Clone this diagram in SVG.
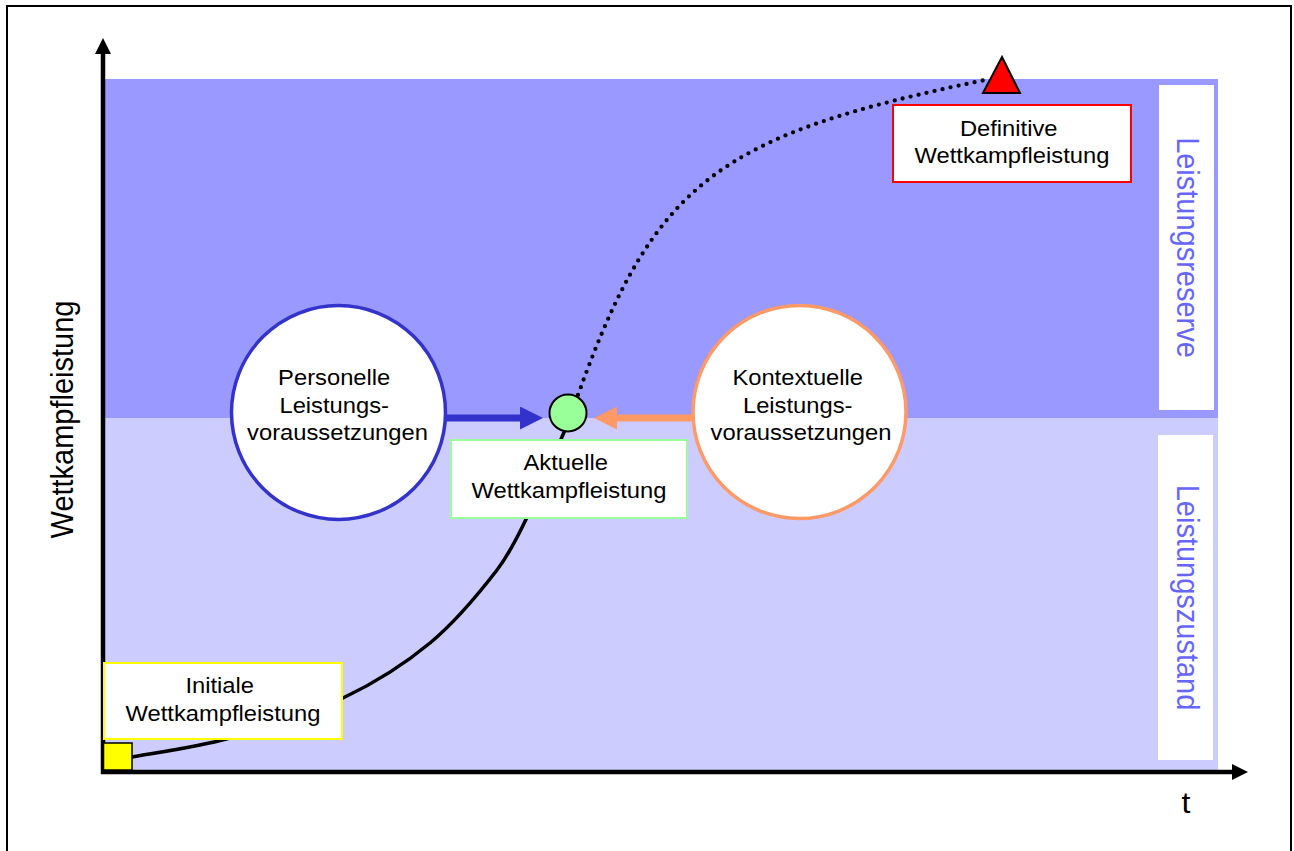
<svg xmlns="http://www.w3.org/2000/svg" width="1294" height="851" viewBox="0 0 1294 851">
  <style>
    .txt { font-family: "Liberation Sans", Arial, sans-serif; font-size: 22px; fill: #000; text-anchor: middle; }
    .big { font-family: "Liberation Sans", Arial, sans-serif; font-size: 29px; text-anchor: middle; }
    .side { fill: #6666FF; }
    .axis { stroke: #000; stroke-width: 4.5; fill: none; }
    .box { fill: #fff; stroke-width: 2; }
    .ring { fill: #fff; stroke-width: 3.5; }
    .curve { fill: none; stroke: #000; stroke-width: 3.5; }
    .dots { fill: none; stroke: #000; stroke-width: 4.3; stroke-linecap: round; stroke-dasharray: 0 8.2; }
  </style>
  <defs>
    <marker id="axisHead" viewBox="0 0 16 16" refX="1" refY="8" markerWidth="16" markerHeight="16" markerUnits="userSpaceOnUse" orient="auto">
      <path d="M0,0 L16,8 L0,16 Z" fill="#000"/>
    </marker>
    <marker id="blueHead" viewBox="0 0 23 23" refX="1" refY="11.5" markerWidth="23" markerHeight="23" markerUnits="userSpaceOnUse" orient="auto">
      <path d="M0,0 L23,11.5 L0,23 Z" fill="#3333CC"/>
    </marker>
    <marker id="orangeHead" viewBox="0 0 23 23" refX="1" refY="11.5" markerWidth="23" markerHeight="23" markerUnits="userSpaceOnUse" orient="auto">
      <path d="M0,0 L23,11.5 L0,23 Z" fill="#FF9966"/>
    </marker>
  </defs>

  <!-- page frame -->
  <rect x="0" y="0" width="1294" height="851" fill="#fff"/>
  <rect x="7" y="6" width="1284" height="880" fill="none" stroke="#000" stroke-width="2"/>

  <!-- performance bands -->
  <g id="bands">
    <rect x="105" y="79" width="1113" height="339" fill="#9999FF"/>
    <rect x="105" y="418" width="1113" height="352" fill="#CCCCFF"/>
  </g>

  <!-- band labels -->
  <g id="reserve">
    <rect x="1159" y="85" width="55" height="325" fill="#fff"/>
    <text class="big side" transform="translate(1177,247.5) scale(1.1,1) rotate(90)" x="0" y="0">Leistungsreserve</text>
  </g>
  <g id="zustand">
    <rect x="1158" y="435" width="55" height="325" fill="#fff"/>
    <text class="big side" transform="translate(1177,597.5) scale(1.1,1) rotate(90)" x="0" y="0">Leistungszustand</text>
  </g>

  <!-- axes -->
  <g id="axes">
    <line class="axis" x1="103" y1="774" x2="103" y2="53" marker-end="url(#axisHead)"/>
    <line class="axis" x1="101" y1="772" x2="1233" y2="772" marker-end="url(#axisHead)"/>
    <text class="big" transform="translate(73,419.5) scale(1.1,1) rotate(-90)" x="0" y="0">Wettkampfleistung</text>
    <text class="big" transform="translate(1186,0) scale(1.1,1)" x="0" y="813">t</text>
  </g>

  <!-- connectors -->
  <g id="connectors">
    <path class="curve" d="M132,757 C148.3,753.8 194.8,747.8 230,738 C265.2,728.2 309.7,713.8 343,698 C376.3,682.2 404.3,664.3 430,643 C455.7,621.7 481.2,590.5 497,570 C521.4,538.4 549,466.6 565,430"/>
    <path class="dots" d="M578,395 C655,180 720,135 985,80"/>
    <line x1="446" y1="418" x2="521" y2="418" stroke="#3333CC" stroke-width="7" marker-end="url(#blueHead)"/>
    <line x1="693" y1="418" x2="616" y2="418" stroke="#FF9966" stroke-width="7" marker-end="url(#orangeHead)"/>
  </g>

  <!-- nodes -->
  <g id="personelle">
    <circle class="ring" cx="338.5" cy="412.5" r="107" stroke="#3333CC"/>
    <text class="txt" transform="translate(337.5,0) scale(1.08,1)">
      <tspan x="0" y="385">Personelle</tspan>
      <tspan x="0" y="413">Leistungs-</tspan>
      <tspan x="0" y="440">voraussetzungen</tspan>
    </text>
  </g>

  <g id="kontextuelle">
    <circle class="ring" cx="799.5" cy="412" r="106.5" stroke="#FF9966"/>
    <text class="txt" transform="translate(801,0) scale(1.08,1)">
      <tspan x="0" y="385">Kontextuelle</tspan>
      <tspan x="0" y="413">Leistungs-</tspan>
      <tspan x="0" y="440">voraussetzungen</tspan>
    </text>
  </g>

  <g id="aktuelle">
    <circle cx="568" cy="413" r="18.5" fill="#99FF99" stroke="#000" stroke-width="2"/>
    <rect class="box" x="451" y="440" width="236" height="78" stroke="#99FF99"/>
    <text class="txt" transform="translate(569,0) scale(1.08,1)">
      <tspan x="0" y="470">Aktuelle</tspan>
      <tspan x="0" y="498">Wettkampfleistung</tspan>
    </text>
  </g>

  <g id="definitive">
    <polygon points="1002,57 983,93 1020,93" fill="#FF0000" stroke="#000" stroke-width="2" stroke-linejoin="miter"/>
    <rect class="box" x="893" y="105" width="238" height="77" stroke="#FF0000"/>
    <text class="txt" transform="translate(1012,0) scale(1.08,1)">
      <tspan x="0" y="136">Definitive</tspan>
      <tspan x="0" y="163">Wettkampfleistung</tspan>
    </text>
  </g>

  <g id="initiale">
    <rect class="box" x="104" y="663" width="238" height="76" stroke="#FFFF00"/>
    <text class="txt" transform="translate(223,0) scale(1.08,1)">
      <tspan x="0" y="693">Initiale</tspan>
      <tspan x="0" y="721">Wettkampfleistung</tspan>
    </text>
    <rect x="103.5" y="743" width="28.5" height="27" fill="#FFFF00" stroke="#000" stroke-width="1.5"/>
  </g>
</svg>
